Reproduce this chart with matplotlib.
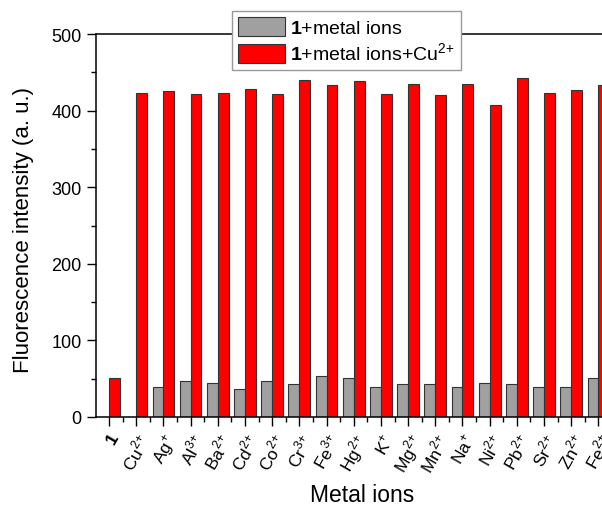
import matplotlib
matplotlib.use("Agg")
import matplotlib.pyplot as plt
import numpy as np
from matplotlib.ticker import MultipleLocator

plt.rcParams['font.family'] = ['Liberation Sans', 'DejaVu Sans']
plt.rcParams['mathtext.fontset'] = 'custom'
plt.rcParams['mathtext.rm'] = 'Liberation Sans'
plt.rcParams['mathtext.bf'] = 'Liberation Sans:bold'

categories = [r'$\mathbf{1}$', 'Cu$^{2{+}}$', 'Ag$^{{+}}$', 'Al$^{3{+}}$', 'Ba$^{2{+}}$', 'Cd$^{2{+}}$',
              'Co$^{2{+}}$', 'Cr$^{3{+}}$', 'Fe$^{3{+}}$', 'Hg$^{2{+}}$', 'K$^{{+}}$', 'Mg$^{2{+}}$',
              'Mn$^{2{+}}$', 'Na$^{{+}}$', 'Ni$^{2{+}}$', 'Pb$^{2{+}}$', 'Sr$^{2{+}}$', 'Zn$^{2{+}}$', 'Fe$^{2{+}}$']
metal_only = [0, 0, 39, 47, 44, 36, 47, 43, 53, 51, 39, 43, 43.5, 39, 45, 43, 39, 39, 50.5]
metal_cu = [51, 423, 425, 422, 423, 428, 422, 440, 434, 439, 422, 435, 420, 435, 407, 442, 423, 427, 433]

fig = plt.figure(figsize=(6.02, 5.06), dpi=100)
ax = fig.add_axes([96/602, (506-418)/506, (612-96)/602, 383/506])

x = np.arange(len(categories))
w = 0.4
ax.bar(x - w/2, metal_only, width=w, color='#a0a0a0', edgecolor='#333333', linewidth=0.8,
       label=r'$\mathbf{1}$+metal ions')
ax.bar(x + w/2, metal_cu, width=w, color='#ff0000', edgecolor='#333333', linewidth=0.8,
       label=r'$\mathbf{1}$+metal ions+Cu$^{2{+}}$')

ax.set_xlim(-0.48, len(categories) - 0.5)
ax.set_ylim(0, 500)
ax.set_xticks(x)
ax.set_xticklabels(categories, rotation=60, ha='right', rotation_mode='anchor')
ax.xaxis.set_minor_locator(MultipleLocator(0.5))
ax.yaxis.set_major_locator(MultipleLocator(100))
ax.yaxis.set_minor_locator(MultipleLocator(50))
ax.tick_params(axis='both', which='major', direction='out', length=6.5, width=1)
ax.tick_params(axis='y', which='major', labelsize=13, pad=4)
ax.tick_params(axis='x', which='major', labelsize=12.5, pad=3)
ax.tick_params(axis='both', which='minor', direction='out', length=3.5, width=1)
for s in ax.spines.values():
    s.set_linewidth(1.1)
ax.spines['right'].set_visible(False)

ax.set_ylabel('Fluorescence intensity (a. u.)', fontsize=16)
ax.yaxis.set_label_coords((24-96)/516, 0.49)
ax.set_xlabel('Metal ions', fontsize=16.5)
ax.xaxis.set_label_coords((362-96)/516, (418-496)/383)
ax.xaxis.label.set_va('center')
ax.yaxis.label.set_va('center')

leg = ax.legend(loc='upper left', bbox_to_anchor=((232-96)/516, (418-12)/383), fontsize=14,
                frameon=True, fancybox=False, edgecolor='#999999', framealpha=1,
                handlelength=2.4, handleheight=1.1, handletextpad=0.3,
                borderpad=0.3, labelspacing=0.25, borderaxespad=0)
leg.get_frame().set_linewidth(1)

fig.savefig('out.png', dpi=100)
